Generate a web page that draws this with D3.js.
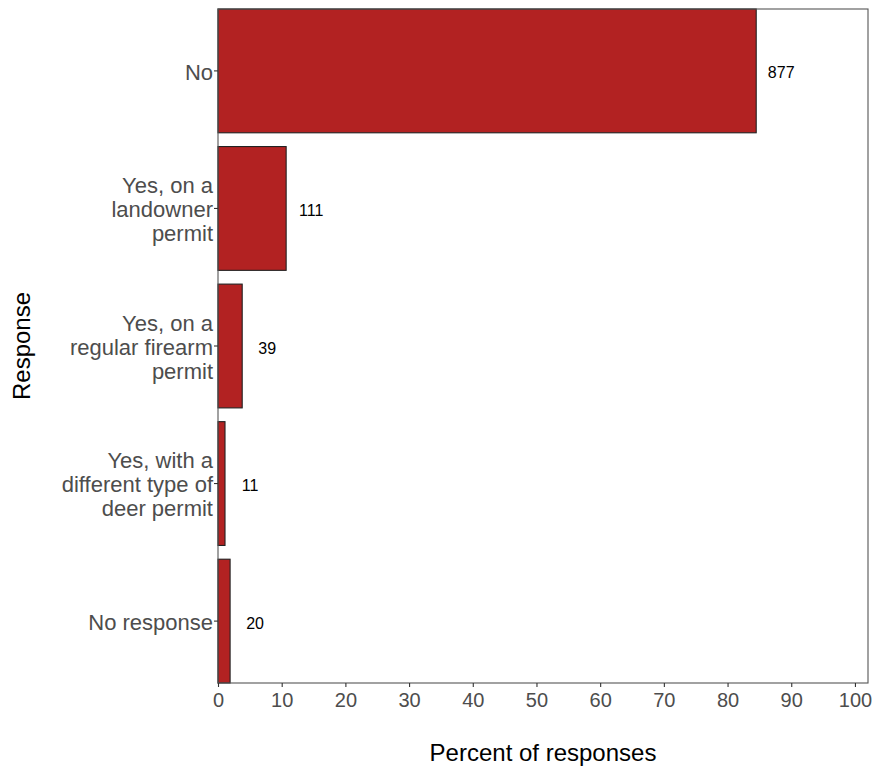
<!DOCTYPE html>
<html><head><meta charset="utf-8">
<script src="https://cdn.jsdelivr.net/npm/d3@7"></script>
<style>body{margin:0;background:#fff}svg, svg text{font-family:"Liberation Sans",Arial,sans-serif}</style>
</head><body><svg id="c" width="874" height="769"></svg>
<script>
const categories = ["No", "Yes, on a\nlandowner\npermit", "Yes, on a\nregular firearm\npermit", "Yes, with a\ndifferent type of\ndeer permit", "No response"];
const percents = [84.5, 10.7, 3.8, 1.1, 1.9];
const counts = [877, 111, 39, 11, 20];
const xTicks = [0,10,20,30,40,50,60,70,80,90,100];

const FONT = "Liberation Sans, Arial, sans-serif";
const svg = d3.select("#c");
const L = 218, R = 868, T = 9, B = 683;
const x = d3.scaleLinear().domain([0, 102.05]).range([L, R]);
const y = d3.scaleBand().domain(categories).range([T, B]).paddingInner(0.1).paddingOuter(0);

svg.selectAll("rect.bar").data(categories).join("rect")
  .attr("class","bar")
  .attr("x", x(0)).attr("y", d => y(d))
  .attr("width", (d,i) => x(percents[i]) - x(0))
  .attr("height", y.bandwidth())
  .attr("fill", "#b22222").attr("stroke", "#222").attr("stroke-width", 1.1);

svg.selectAll("text.val").data(categories).join("text")
  .attr("class","val")
  .attr("x", (d,i) => x(percents[i]) + 25)
  .attr("y", d => y(d) + y.bandwidth()/2 + 2)
  .attr("dy", "0.35em")
  .attr("text-anchor", "middle")
  .attr("font-family", FONT)
  .attr("font-size", 16).attr("fill", "#000")
  .text((d,i) => counts[i]);

// panel border
svg.append("rect").attr("x", L).attr("y", T).attr("width", R-L).attr("height", B-T)
  .attr("fill","none").attr("stroke","#555").attr("stroke-width",1.1);

// x axis
const xa = svg.append("g").attr("transform", `translate(0,${B})`)
  .call(d3.axisBottom(x).tickValues(xTicks).tickSize(4).tickPadding(6));
xa.attr("font-family", FONT);
xa.select(".domain").remove();
xa.selectAll(".tick line").attr("stroke","#333").attr("stroke-width",1.1);
xa.selectAll(".tick text").attr("font-size",20).attr("fill","#4d4d4d");

// y axis
const ya = svg.append("g").attr("transform", `translate(${L},0)`)
  .call(d3.axisLeft(y).tickSize(4).tickPadding(2).tickFormat(""));
ya.attr("font-family", FONT);
ya.select(".domain").remove();
ya.selectAll(".tick line").attr("stroke","#333").attr("stroke-width",1.1);
ya.selectAll(".tick").each(function(d){
  const lines = d.split("\n");
  const lh = 24;
  const t = d3.select(this).append("text")
    .attr("x", -5).attr("text-anchor","end").attr("font-size",22).attr("fill","#4d4d4d");
  lines.forEach((ln,i) => {
    t.append("tspan").attr("x",-5).attr("y", (i - (lines.length-1)/2)*lh + 1).attr("dy","0.35em").text(ln);
  });
});

// titles
svg.append("text").attr("x", (L+R)/2).attr("y", 761).attr("text-anchor","middle")
  .attr("font-family", FONT).attr("font-size",24).attr("fill","#000").text("Percent of responses");
svg.append("text").attr("transform", `translate(30,${(T+B)/2}) rotate(-90)`).attr("text-anchor","middle")
  .attr("font-family", FONT).attr("font-size",24).attr("fill","#000").text("Response");
</script></body></html>
